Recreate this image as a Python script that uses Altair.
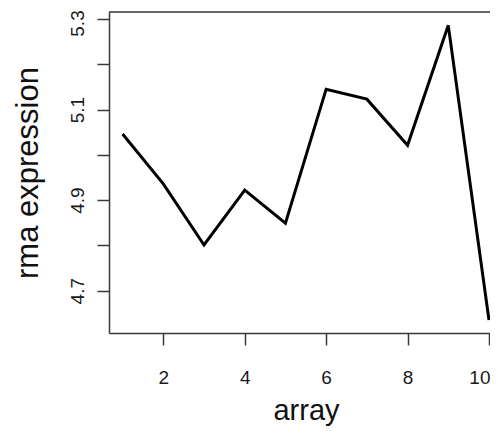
import altair as alt
import pandas as pd

arrays = [1, 2, 3, 4, 5, 6, 7, 8, 9, 10]
expression = [5.046, 4.936, 4.801, 4.922, 4.849, 5.145, 5.123, 5.021, 5.286, 4.635]
x_ticks = [2, 4, 6, 8, 10]
y_ticks = [4.7, 4.8, 4.9, 5.0, 5.1, 5.2, 5.3]
y_labels = ["4.7", "4.9", "5.1", "5.3"]

df = pd.DataFrame({"array": arrays, "expr": expression})

W = 381
H = 321
FONT = "Liberation Sans"
AX = "#3a3a3a"

label_list = ",".join("'" + s + "'" for s in y_labels)

line = alt.Chart(df).mark_line(color="black", strokeWidth=3).encode(
    x=alt.X(
        "array:Q",
        scale=alt.Scale(domain=[0.666, 10.025], nice=False, zero=False),
        axis=alt.Axis(
            values=x_ticks, format="d", grid=False, title="array",
            tickSize=12, tickColor=AX, tickWidth=1.5,
            domainColor=AX, domainWidth=1.5,
            labelFont=FONT, labelFontSize=19, labelColor="#1a1a1a",
            labelPadding=23, labelFlush=False, labelOverlap=False,
            labelAlign={"condition": {"test": "datum.value >= 10", "value": "right"}, "value": "center"},
            labelOffset={"condition": {"test": "datum.value >= 10", "value": 1}, "value": 0},
            titleFont=FONT, titleFontSize=29, titleFontWeight="normal",
            titleColor="#111111", titleBaseline="alphabetic", titleAlign="center",
            titleX=197, titleY=86,
        ),
    ),
    y=alt.Y(
        "expr:Q",
        scale=alt.Scale(domain=[4.60658, 5.31546], nice=False, zero=False),
        axis=alt.Axis(
            values=y_ticks, grid=False, title="rma expression",
            labelExpr="indexof([" + label_list + "], format(datum.value, '.1f')) >= 0 ? format(datum.value, '.1f') : ''",
            tickSize=12, tickColor=AX, tickWidth=1.5,
            domainColor=AX, domainWidth=1.5,
            labelFont=FONT, labelFontSize=19, labelColor="#1a1a1a",
            labelAngle=270, labelAlign="center", labelBaseline="alphabetic",
            labelPadding=14, labelFlush=False, labelOverlap=False,
            labelOffset={"condition": {"test": "datum.value > 5.25", "value": 4}, "value": 0},
            titleFont=FONT, titleFontSize=31, titleFontWeight="normal",
            titleColor="#111111", titleAngle=270, titleBaseline="alphabetic",
            titleAlign="center", titleX=-72, titleY=160.5,
        ),
    ),
)

top_border = alt.Chart(pd.DataFrame({"v": [0]})).mark_rule(color=AX, strokeWidth=1.5).encode(
    x=alt.value(0), x2=alt.value(W), y=alt.value(0)
)

chart = alt.layer(line, top_border).properties(
    width=W, height=H,
    autosize=alt.AutoSizeParams(type="none"),
    padding={"left": 101, "top": 4, "right": 0, "bottom": 93},
).configure_view(stroke=None).configure(background="white")

chart.save("out.html", embed_options={"renderer": "svg", "actions": False})
